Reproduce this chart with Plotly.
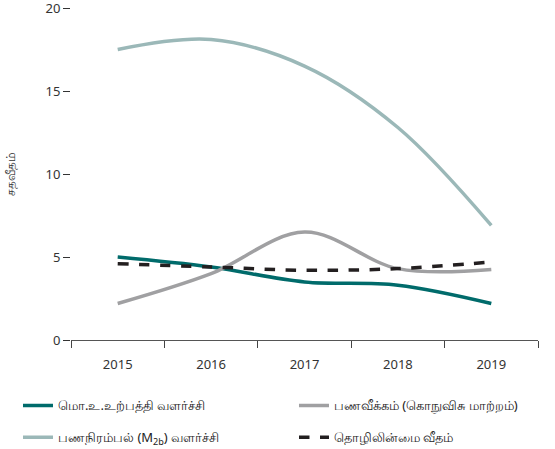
import plotly.graph_objects as go

years = ["2015", "2016", "2017", "2018", "2019"]
gdp_growth = [5.0, 4.4, 3.5, 3.3, 2.2]
inflation = [2.2, 4.0, 6.5, 4.3, 4.25]
m2b_growth = [17.5, 18.1, 16.5, 12.8, 6.9]
unemployment = [4.6, 4.4, 4.2, 4.3, 4.7]

names = ["மொ.உ.உற்பத்தி வளர்ச்சி", "பணவீக்கம் (கொநுவிசு மாற்றம்)",
         "பணநிரம்பல் (M<sub>2b</sub>) வளர்ச்சி", "தொழிலின்மை வீதம்"]

fig = go.Figure()
fig.add_trace(go.Scatter(x=years, y=gdp_growth, name=names[0], mode="lines", legend="legend",
                         line=dict(color="#006b6b", width=3.5, shape="spline")))
fig.add_trace(go.Scatter(x=years, y=inflation, name=names[1], mode="lines", legend="legend2",
                         line=dict(color="#a0a0a2", width=3.5, shape="spline")))
fig.add_trace(go.Scatter(x=years, y=m2b_growth, name=names[2], mode="lines", legend="legend3",
                         line=dict(color="#9bb8b8", width=3.5, shape="spline")))
fig.add_trace(go.Scatter(x=years, y=unemployment, name=names[3], mode="lines", legend="legend4",
                         line=dict(color="#231f20", width=3.5, shape="spline", dash="dash")))

leg_common = dict(orientation="h", xanchor="left", yanchor="top",
                  font=dict(size=13, color="#222222"), itemwidth=30,
                  bgcolor="rgba(0,0,0,0)")
col1_x, col2_x = -0.1135, 0.4775
row1_y, row2_y = -0.152, -0.248

fig.update_layout(
    width=555, height=449,
    margin=dict(l=71, r=17, t=8, b=109, autoexpand=False),
    paper_bgcolor="white", plot_bgcolor="white",
    font=dict(family="Noto Sans, DejaVu Sans, sans-serif", color="#333333", size=13),
    showlegend=True,
    legend=dict(x=col1_x, y=row1_y, **leg_common),
    legend2=dict(x=col2_x, y=row1_y, **leg_common),
    legend3=dict(x=col1_x, y=row2_y, **leg_common),
    legend4=dict(x=col2_x, y=row2_y, **leg_common),
    xaxis=dict(type="category", range=[-0.5, 4.5], tickson="boundaries",
               ticks="outside", ticklen=7, tickcolor="#444", showline=True,
               linecolor="#555", linewidth=1.2, showgrid=False, zeroline=False,
               ticklabelstandoff=12,
               tickfont=dict(size=13, color="#333")),
    yaxis=dict(range=[0, 20], tickvals=[0, 5, 10, 15, 20], ticks="outside", ticklen=7,
               tickcolor="#333", showline=False, showgrid=False, zeroline=False,
               ticklabeloverflow="allow",
               tickfont=dict(size=13, color="#333"),
               title=dict(text="சதவீதம்", font=dict(size=12, color="#333"), standoff=27)),
)

fig.write_html("out.html", post_script="document.body.style.margin='0';",
               config={"displayModeBar": False})
